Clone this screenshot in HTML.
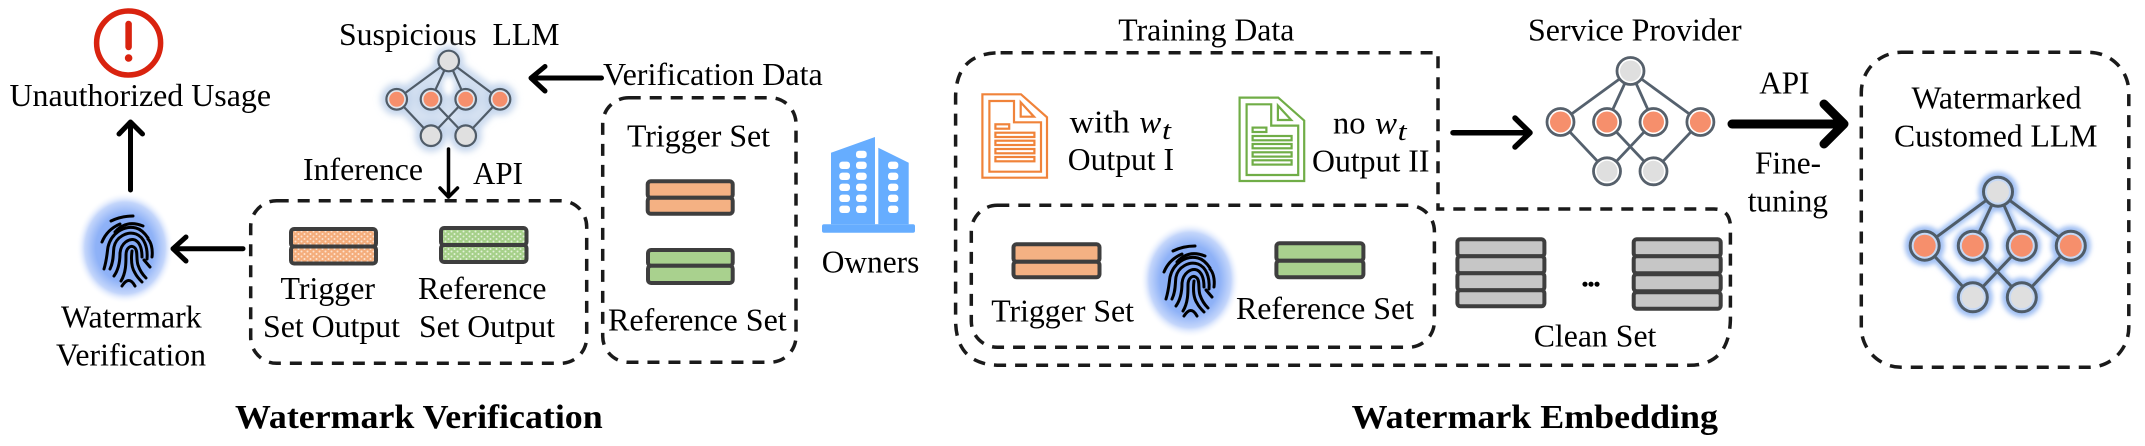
<!DOCTYPE html>
<html><head><meta charset="utf-8"><style>
html,body{margin:0;padding:0;background:#fff;width:2145px;height:446px;overflow:hidden}
svg{display:block}
text{font-family:"Liberation Serif",serif;font-size:32px;fill:#000}
.b{font-weight:bold;font-size:34px;fill:#000}
.i{font-style:italic}
.d{fill:none;stroke:#1a1a1a;stroke-width:3.5;stroke-dasharray:12 9}
.a{fill:none;stroke:#000;stroke-linecap:round;stroke-linejoin:round}
.st{stroke:#3e3e3e;stroke-width:4}
</style></head><body>
<svg xmlns="http://www.w3.org/2000/svg" width="2145" height="446" viewBox="0 0 2145 446">
<defs>
<radialGradient id="hg"><stop offset="0" stop-color="#7fa6f6"/><stop offset=".6" stop-color="#8fb2f7"/><stop offset=".82" stop-color="#c4d6fb"/><stop offset="1" stop-color="#fff" stop-opacity="0"/></radialGradient>
<pattern id="po" width="6" height="5" patternUnits="userSpaceOnUse"><rect width="6" height="5" fill="#f4ad7c"/><circle cx="1.5" cy="1.5" r="1" fill="#fde3d0"/><circle cx="4.5" cy="4" r="1" fill="#fde3d0"/></pattern>
<pattern id="pg" width="6" height="5" patternUnits="userSpaceOnUse"><rect width="6" height="5" fill="#a6d08a"/><circle cx="1.5" cy="1.5" r="1" fill="#e2f1d8"/><circle cx="4.5" cy="4" r="1" fill="#e2f1d8"/></pattern>
<filter id="bl1" x="-20%" y="-20%" width="140%" height="140%"><feGaussianBlur stdDeviation="3.5"/></filter>
<filter id="bl2" x="-20%" y="-20%" width="140%" height="140%"><feGaussianBlur stdDeviation="2.5"/></filter>
<g id="fp" fill="none" stroke="#000" stroke-width="3" stroke-linecap="round">
<path d="M8,6 Q18,1 30,1"/>
<path d="M12,17 C20,8 30,7 40,11"/>
<path d="M-1,27 C3,17 10,12 17,9"/>
<path d="M45,23 C41,17 37,14 33,13 C20,10 8,19 5,32 C4,38 4,44 1,54"/>
<path d="M49,42 C50,34 48,27 45,24"/>
<path d="M7,54 C11,46 10,38 11,32 C13,22 24,16 33,19 C41,22 45,32 44,44"/>
<path d="M11,61 C16,54 17,46 17,38 C18,28 26,23 32,25 C38,28 39,36 39,42"/>
<path d="M18,66 C23,58 23,48 23,40 C23,33 28,29 32,33 C35,36 33,44 35,50 C37,56 40,60 43,63"/>
<path d="M29,36 C28,44 28,52 32,58 C34,62 37,65 39,67"/>
<path d="M41,45 L47,52"/>
<path d="M19,71 Q26,60 32,71" />
</g>
<g id="doc" fill="none" stroke-width="2.2">
<path d="M0,0 H38.6 L64.6,23 V83.4 H0 Z"/>
<path d="M7,6.7 H31.6 V28 H58.6 V77.4 H7 Z"/>
<path d="M38.3,8 V22.4 H51.6 Z"/>
<rect x="13" y="30" width="13.8" height="4.4"/>
<rect x="13" y="38.4" width="39" height="4.3"/>
<rect x="13" y="46.4" width="39" height="4.3"/>
<rect x="13" y="54.7" width="39" height="4.3"/>
<rect x="13" y="62.7" width="39" height="4.3"/>
</g>
<g id="lines" fill="none">
<path d="M448.7,61 L396.7,99.3 M448.7,61 L431,99.3 M448.7,61 L465.7,99.3 M448.7,61 L500,99.3 M396.7,99.3 L431,135.7 M431,99.3 L465.7,135.7 M465.7,99.3 L431,135.7 M500,99.3 L465.7,135.7"/>
</g>
</defs>

<!-- alert -->
<circle cx="128.6" cy="43" r="32" fill="#fff" stroke="#d9230f" stroke-width="5.5"/>
<path d="M128.6,24 V47" stroke="#d9230f" stroke-width="6.5" stroke-linecap="round"/>
<circle cx="128.6" cy="58" r="3.8" fill="#d9230f"/>
<text x="9.5" y="106" textLength="261.5" lengthAdjust="spacingAndGlyphs">Unauthorized Usage</text>
<path class="a" stroke-width="5" d="M130.5,190 V122 M119,134 L130.5,122 L142.5,134"/>

<!-- fingerprint 1 -->
<ellipse cx="125" cy="248" rx="49" ry="56" fill="url(#hg)"/>
<use href="#fp" x="103" y="215"/>
<text x="61" y="327.7" textLength="140.7" lengthAdjust="spacingAndGlyphs">Watermark</text>
<text x="56" y="365.7" textLength="150" lengthAdjust="spacingAndGlyphs">Verification</text>
<path class="a" stroke-width="5" d="M243,248.7 H173 M186,237 L173,248.7 L186,261"/>

<!-- suspicious LLM -->
<text x="339" y="45" textLength="220.5" lengthAdjust="spacingAndGlyphs" xml:space="preserve">Suspicious  LLM</text>
<g filter="url(#bl1)">
<use href="#lines" stroke="#c4d5ec" stroke-width="12"/>
<path d="M448.7,61 L396.7,99.3 L431,135.7 L465.7,135.7 L500,99.3 Z" fill="#d6e2f2"/>
<g fill="#c4d5ec"><circle cx="448.7" cy="61" r="15"/><circle cx="396.7" cy="99.3" r="16"/><circle cx="431" cy="99.3" r="14"/><circle cx="465.7" cy="99.3" r="14"/><circle cx="500" cy="99.3" r="16"/><circle cx="431" cy="135.7" r="16"/><circle cx="465.7" cy="135.7" r="16"/></g>
</g>
<ellipse cx="448.7" cy="86" rx="5" ry="9" fill="#fff" filter="url(#bl2)"/>
<use href="#lines" stroke="#505c68" stroke-width="2.2"/>
<g stroke="#505c68" stroke-width="2.2" fill="#e0e0e0">
<circle cx="448.7" cy="61" r="10.3"/><circle cx="431" cy="135.7" r="10.3"/><circle cx="465.7" cy="135.7" r="10.3"/>
<g fill="#dfe6ef"><circle cx="396.7" cy="99.3" r="10.3"/><circle cx="431" cy="99.3" r="10.3"/><circle cx="465.7" cy="99.3" r="10.3"/><circle cx="500" cy="99.3" r="10.3"/></g>
</g>
<g fill="#f68f6c"><circle cx="396.7" cy="99.3" r="7.5"/><circle cx="431" cy="99.3" r="7.5"/><circle cx="465.7" cy="99.3" r="7.5"/><circle cx="500" cy="99.3" r="7.5"/></g>
<path class="a" stroke-width="5" d="M601.5,78 H531 M545,66.5 L531,78 L545,91"/>
<text x="603" y="85" textLength="219.7" lengthAdjust="spacingAndGlyphs">Verification Data</text>
<text x="303" y="180" textLength="120" lengthAdjust="spacingAndGlyphs">Inference</text>
<text x="473" y="184" textLength="50" lengthAdjust="spacingAndGlyphs">API</text>
<path class="a" stroke-width="3.5" d="M448.5,149 V197 M440,188 L448.5,197 L457.5,188"/>

<!-- output box -->
<rect class="d" x="250.7" y="200.7" width="336" height="162.6" rx="26" ry="26"/>
<g class="st">
<rect x="291" y="229" width="85" height="17.5" rx="3" fill="url(#po)"/><rect x="291" y="246.5" width="85" height="17" rx="3" fill="url(#po)"/>
<rect x="441" y="228" width="85.5" height="17" rx="3" fill="url(#pg)"/><rect x="441" y="245" width="85.5" height="17" rx="3" fill="url(#pg)"/>
</g>
<text x="280.5" y="299" textLength="94.5" lengthAdjust="spacingAndGlyphs">Trigger</text>
<text x="418" y="299" textLength="128.5" lengthAdjust="spacingAndGlyphs">Reference</text>
<text x="263" y="337" textLength="137" lengthAdjust="spacingAndGlyphs">Set Output</text>
<text x="419" y="337" textLength="136" lengthAdjust="spacingAndGlyphs">Set Output</text>
<text class="b" x="235" y="428" textLength="367.7" lengthAdjust="spacingAndGlyphs">Watermark Verification</text>

<!-- trigger box -->
<rect class="d" x="602.7" y="97.7" width="193.3" height="264.6" rx="26" ry="26"/>
<text x="627" y="146.7" textLength="143" lengthAdjust="spacingAndGlyphs">Trigger Set</text>
<g class="st">
<rect x="647.7" y="181.3" width="85" height="16.4" rx="3" fill="#f4b183"/><rect x="647.7" y="197.7" width="85" height="16" rx="3" fill="#f4b183"/>
<rect x="648" y="250" width="84.7" height="15.7" rx="3" fill="#a9d18e"/><rect x="648" y="265.7" width="84.7" height="17.3" rx="3" fill="#a9d18e"/>
</g>
<text x="608" y="330.7" textLength="178.7" lengthAdjust="spacingAndGlyphs">Reference Set</text>

<!-- owners -->
<g fill="#66adff">
<rect x="822" y="224.3" width="93" height="8.4" rx="2"/>
<path d="M831,152.7 L875,137 V224.3 H831 Z"/>
<path d="M878.3,147.7 L908.7,162.7 V224.3 H878.3 Z"/>
</g>
<g fill="#fff">
<rect x="856" y="150.7" width="10.7" height="7.4" rx="3"/>
<rect x="839.3" y="161.6" width="10.7" height="7.4" rx="3"/><rect x="856" y="161.6" width="10.7" height="7.4" rx="3"/><rect x="888" y="161.6" width="10.3" height="7.4" rx="3"/>
<rect x="839.3" y="172.6" width="10.7" height="7.4" rx="3"/><rect x="856" y="172.6" width="10.7" height="7.4" rx="3"/><rect x="888" y="172.6" width="10.3" height="7.4" rx="3"/>
<rect x="839.3" y="183.6" width="10.7" height="7.4" rx="3"/><rect x="856" y="183.6" width="10.7" height="7.4" rx="3"/><rect x="888" y="183.6" width="10.3" height="7.4" rx="3"/>
<rect x="839.3" y="194.6" width="10.7" height="7.4" rx="3"/><rect x="856" y="194.6" width="10.7" height="7.4" rx="3"/><rect x="888" y="194.6" width="10.3" height="7.4" rx="3"/>
<rect x="839.3" y="205.6" width="10.7" height="7.4" rx="3"/><rect x="856" y="205.6" width="10.7" height="7.4" rx="3"/><rect x="888" y="205.6" width="10.3" height="7.4" rx="3"/>
</g>
<text x="821.7" y="272.7" textLength="97.6" lengthAdjust="spacingAndGlyphs">Owners</text>

<!-- training -->
<text x="1118.3" y="40.7" textLength="176" lengthAdjust="spacingAndGlyphs">Training Data</text>
<path class="d" d="M1000.6,52.7 H1438 V209 H1714 Q1729,209 1730.4,225 V320 Q1729,365.3 1689,365.3 H1000.6 Q955.6,365.3 955.6,320 V97.7 Q955.6,52.7 1000.6,52.7 Z"/>
<rect class="d" x="971.3" y="205.3" width="463.1" height="142" rx="26" ry="26"/>
<use href="#doc" x="982.4" y="94.3" stroke="#f0833a"/>
<use href="#doc" x="1239.6" y="97.6" stroke="#70ad47"/>
<text x="1069.7" y="132.3" textLength="60" lengthAdjust="spacingAndGlyphs">with</text>
<text class="i" x="1139.3" y="132.3" textLength="22" lengthAdjust="spacingAndGlyphs">w</text>
<text class="i" x="1162" y="139" style="font-size:26px" textLength="9" lengthAdjust="spacingAndGlyphs">t</text>
<text x="1067.8" y="170" textLength="106.2" lengthAdjust="spacingAndGlyphs">Output I</text>
<text x="1333" y="133.3" textLength="32.5" lengthAdjust="spacingAndGlyphs">no</text>
<text class="i" x="1375" y="133.3" textLength="22" lengthAdjust="spacingAndGlyphs">w</text>
<text class="i" x="1397.7" y="140" style="font-size:26px" textLength="9" lengthAdjust="spacingAndGlyphs">t</text>
<text x="1312" y="171.3" textLength="117.4" lengthAdjust="spacingAndGlyphs">Output II</text>
<g class="st">
<rect x="1013.5" y="244.3" width="86" height="17.5" rx="3" fill="#f4b183"/><rect x="1013.5" y="261.8" width="86" height="15.5" rx="3" fill="#f4b183"/>
<rect x="1276.4" y="243.3" width="87" height="17.5" rx="3" fill="#a9d18e"/><rect x="1276.4" y="260.8" width="87" height="16.5" rx="3" fill="#a9d18e"/>
<rect x="1457.4" y="239.3" width="87" height="17" rx="3" fill="#c6c6c6"/><rect x="1457.4" y="256.3" width="87" height="17" rx="3" fill="#c6c6c6"/><rect x="1457.4" y="273.3" width="87" height="17" rx="3" fill="#c6c6c6"/><rect x="1457.4" y="290.3" width="87" height="16" rx="3" fill="#c6c6c6"/>
<rect x="1633.7" y="239.3" width="87" height="17" rx="3" fill="#c6c6c6"/><rect x="1633.7" y="256.3" width="87" height="17" rx="3" fill="#c6c6c6"/><rect x="1633.7" y="274.3" width="87" height="17" rx="3" fill="#c6c6c6"/><rect x="1633.7" y="292.3" width="87" height="16.4" rx="3" fill="#c6c6c6"/>
</g>
<ellipse cx="1190" cy="280" rx="50" ry="58" fill="url(#hg)"/>
<use href="#fp" x="1165" y="245"/>
<text x="991.2" y="321.7" textLength="142.8" lengthAdjust="spacingAndGlyphs">Trigger Set</text>
<text x="1236" y="319" textLength="178" lengthAdjust="spacingAndGlyphs">Reference Set</text>
<text x="1581" y="286.7" textLength="20" lengthAdjust="spacing" style="font-weight:bold">...</text>
<text x="1533.7" y="346.7" textLength="122.7" lengthAdjust="spacingAndGlyphs">Clean Set</text>
<text class="b" x="1351.7" y="428" textLength="366.3" lengthAdjust="spacingAndGlyphs">Watermark Embedding</text>
<path class="a" stroke-width="5.5" d="M1453,132.7 H1530 M1515,118 L1530,132.7 L1515,147"/>

<!-- service provider -->
<text x="1528" y="40.7" textLength="213.6" lengthAdjust="spacingAndGlyphs">Service Provider</text>
<g stroke="#55616e" stroke-width="2.8" fill="none">
<path d="M1630.5,71 L1560.5,122 M1630.5,71 L1607,122 M1630.5,71 L1653.5,122 M1630.5,71 L1700.4,122 M1560.5,122 L1607,171.3 M1607,122 L1653.5,171.3 M1653.5,122 L1607,171.3 M1700.4,122 L1653.5,171.3"/>
</g>
<g stroke="#56606b" stroke-width="2.8" fill="#fff">
<circle cx="1630.5" cy="71" r="13.5"/><circle cx="1560.5" cy="122" r="13.5"/><circle cx="1607" cy="122" r="13.5"/><circle cx="1653.5" cy="122" r="13.5"/><circle cx="1700.4" cy="122" r="13.5"/><circle cx="1607" cy="171.3" r="13.5"/><circle cx="1653.5" cy="171.3" r="13.5"/>
</g>
<g fill="#dfdfdf"><circle cx="1630.5" cy="71" r="10.5"/><circle cx="1607" cy="171.3" r="10.5"/><circle cx="1653.5" cy="171.3" r="10.5"/></g>
<g fill="#f68f6c"><circle cx="1560.5" cy="122" r="10.5"/><circle cx="1607" cy="122" r="10.5"/><circle cx="1653.5" cy="122" r="10.5"/><circle cx="1700.4" cy="122" r="10.5"/></g>

<text x="1759.3" y="93.3" textLength="50.2" lengthAdjust="spacingAndGlyphs">API</text>
<path class="a" stroke-width="9" d="M1732,124 H1844 M1824,104 L1844,124 L1824,144"/>
<text x="1755" y="173.3" textLength="66" lengthAdjust="spacingAndGlyphs">Fine-</text>
<text x="1747.7" y="211.3" textLength="80.3" lengthAdjust="spacingAndGlyphs">tuning</text>

<!-- customed LLM -->
<rect class="d" x="1861.3" y="52.3" width="267.5" height="315" rx="40" ry="40"/>
<text x="1911.5" y="108.3" textLength="170" lengthAdjust="spacingAndGlyphs">Watermarked</text>
<text x="1894" y="146.7" textLength="203.5" lengthAdjust="spacingAndGlyphs">Customed LLM</text>
<g filter="url(#bl2)">
<path stroke="#a6c4f4" stroke-width="9" fill="none" d="M1998,191.7 L1924.7,245.7 M1998,191.7 L1972.8,245.7 M1998,191.7 L2021.8,245.7 M1998,191.7 L2070.8,245.7 M1924.7,245.7 L1972.8,297.3 M1972.8,245.7 L2021.8,297.3 M2021.8,245.7 L1972.8,297.3 M2070.8,245.7 L2021.8,297.3"/>
<g fill="#a0bff3"><circle cx="1998" cy="191.7" r="20"/><circle cx="1924.7" cy="245.7" r="20"/><circle cx="1972.8" cy="245.7" r="19"/><circle cx="2021.8" cy="245.7" r="19"/><circle cx="2070.8" cy="245.7" r="20"/><circle cx="1972.8" cy="297.3" r="20"/><circle cx="2021.8" cy="297.3" r="20"/></g>
</g>
<path stroke="#4f5c68" stroke-width="3" fill="none" d="M1998,191.7 L1924.7,245.7 M1998,191.7 L1972.8,245.7 M1998,191.7 L2021.8,245.7 M1998,191.7 L2070.8,245.7 M1924.7,245.7 L1972.8,297.3 M1972.8,245.7 L2021.8,297.3 M2021.8,245.7 L1972.8,297.3 M2070.8,245.7 L2021.8,297.3"/>
<g stroke="#4f5c68" stroke-width="3" fill="#c5d8f5">
<circle cx="1998" cy="191.7" r="14.5"/><circle cx="1924.7" cy="245.7" r="14.5"/><circle cx="1972.8" cy="245.7" r="14.5"/><circle cx="2021.8" cy="245.7" r="14.5"/><circle cx="2070.8" cy="245.7" r="14.5"/><circle cx="1972.8" cy="297.3" r="14.5"/><circle cx="2021.8" cy="297.3" r="14.5"/>
</g>
<g fill="#dfdfdf"><circle cx="1998" cy="191.7" r="11"/><circle cx="1972.8" cy="297.3" r="11"/><circle cx="2021.8" cy="297.3" r="11"/></g>
<g fill="#f68f6c"><circle cx="1924.7" cy="245.7" r="11"/><circle cx="1972.8" cy="245.7" r="11"/><circle cx="2021.8" cy="245.7" r="11"/><circle cx="2070.8" cy="245.7" r="11"/></g>
</svg>
</body></html>
